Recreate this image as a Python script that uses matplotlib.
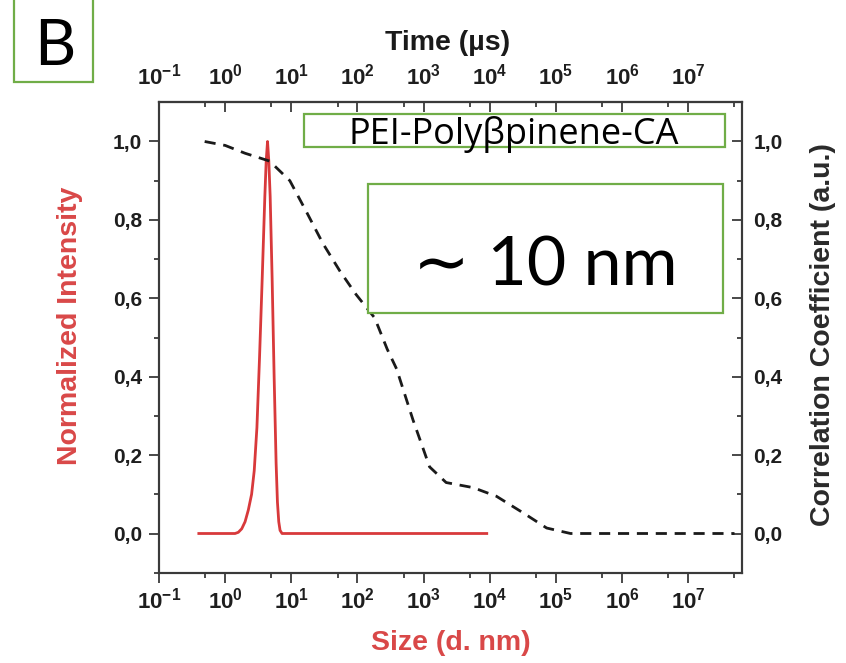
import matplotlib
matplotlib.use("Agg")
import matplotlib.pyplot as plt
from matplotlib.patches import Rectangle
from matplotlib.ticker import FixedLocator, FixedFormatter

plt.rcParams['font.family'] = ['Liberation Sans', 'DejaVu Sans']
plt.rcParams['font.weight'] = 'bold'
plt.rcParams['mathtext.fontset'] = 'custom'
plt.rcParams['mathtext.rm'] = 'Liberation Sans:bold'
plt.rcParams['mathtext.bf'] = 'Liberation Sans:bold'
plt.rcParams['mathtext.it'] = 'Liberation Sans:bold'

# --- size distribution (bottom axis, nm) ---
size_nm = [0.4, 1.0, 1.41, 1.58, 1.78, 2.0, 2.24, 2.51, 2.75, 3.02, 3.31,
           3.63, 3.98, 4.17, 4.37, 4.57, 4.79, 5.13, 5.50, 5.89, 6.17,
           6.46, 6.76, 7.24, 100, 9000]
intensity = [0, 0, 0.0, 0.003, 0.012, 0.03, 0.06, 0.10, 0.16, 0.27, 0.45,
             0.65, 0.86, 0.95, 1.0, 0.95, 0.86, 0.65, 0.40, 0.18, 0.08,
             0.03, 0.008, 0.0, 0, 0]

# --- correlation function (top axis, microseconds) ---
time_us = [0.49, 1.0, 2.0, 4.7, 9.5, 17, 30, 54, 95, 182, 282, 390, 690,
           1230, 2190, 5620, 12600, 32400, 72400, 166000, 5.0e7]
correlation = [1.0, 0.99, 0.97, 0.95, 0.90, 0.82, 0.74, 0.67, 0.61, 0.55,
               0.47, 0.42, 0.29, 0.17, 0.13, 0.117, 0.095, 0.052, 0.014,
               0.0, 0.0]

x_major = [1e-1, 1e0, 1e1, 1e2, 1e3, 1e4, 1e5, 1e6, 1e7]
x_labels = [r'$\mathbf{10^{-1}}$', r'$\mathbf{10^{0}}$', r'$\mathbf{10^{1}}$',
            r'$\mathbf{10^{2}}$', r'$\mathbf{10^{3}}$', r'$\mathbf{10^{4}}$',
            r'$\mathbf{10^{5}}$', r'$\mathbf{10^{6}}$', r'$\mathbf{10^{7}}$']
x_minor = [5e-1, 5e0, 5e1, 5e2, 5e3, 5e4, 5e5, 5e6, 5e7]
y_major = [0.0, 0.2, 0.4, 0.6, 0.8, 1.0]
y_labels = ['0,0', '0,2', '0,4', '0,6', '0,8', '1,0']
y_minor = [-0.1, 0.1, 0.3, 0.5, 0.7, 0.9]

sample_name = 'PEI-Polyβpinene-CA'
size_note = '∼ 10 nm'
panel = 'B'

red = '#D8393B'
axis_col = '#3a3a3a'
green = '#70AD47'

fig = plt.figure(figsize=(8.46, 6.63), dpi=100)
W, H = 846, 663
L, R, T, B = 159, 742.3, 102.3, 572.7
ax = fig.add_axes([L / W, 1 - B / H, (R - L) / W, (B - T) / H])
ax2 = ax.twinx()

ax.set_xscale('log')
ax.set_xlim(1e-1, 10 ** 7.817)
ax.set_ylim(-0.1, 1.1)
ax2.set_ylim(-0.1, 1.1)

ax.plot(size_nm, intensity, color=red, lw=2.0, zorder=3)
ax2.plot(time_us, correlation, color='#1a1a1a', lw=2.0, ls=(0, (4.0, 2.8)))

for a in (ax, ax2):
    for s in a.spines.values():
        s.set_linewidth(1.5)
        s.set_color(axis_col)

ax.xaxis.set_major_locator(FixedLocator(x_major))
ax.xaxis.set_major_formatter(FixedFormatter(x_labels))
ax.xaxis.set_minor_locator(FixedLocator(x_minor))
ax.yaxis.set_major_locator(FixedLocator(y_major))
ax.yaxis.set_major_formatter(FixedFormatter(y_labels))
ax.yaxis.set_minor_locator(FixedLocator(y_minor))
ax2.yaxis.set_major_locator(FixedLocator(y_major))
ax2.yaxis.set_major_formatter(FixedFormatter(y_labels))
ax2.yaxis.set_minor_locator(FixedLocator(y_minor))

tick_kw = dict(colors=axis_col, labelcolor='#1e1e1e', width=1.3)
minor_kw = dict(length=3.5, width=1.3, colors=axis_col)
ax.tick_params(axis='x', which='major', direction='out', length=7, pad=4,
               labelsize=16, **tick_kw)
ax.tick_params(axis='x', which='minor', direction='out', **minor_kw)
ax.tick_params(axis='y', which='major', direction='out', length=7, pad=5,
               labelsize=15, **tick_kw)
ax.tick_params(axis='y', which='minor', direction='out', **minor_kw)
ax2.tick_params(axis='y', which='major', direction='in', length=7, pad=8,
                labelsize=15, **tick_kw)
ax2.tick_params(axis='y', which='minor', direction='in', **minor_kw)

top = ax.secondary_xaxis('top')
top.xaxis.set_major_locator(FixedLocator(x_major))
top.xaxis.set_major_formatter(FixedFormatter(x_labels))
top.xaxis.set_minor_locator(FixedLocator(x_minor))
top.tick_params(axis='x', which='major', direction='in', length=7, pad=9,
                labelsize=16, **tick_kw)
top.tick_params(axis='x', which='minor', direction='in', **minor_kw)
top.spines['top'].set_linewidth(1.5)
top.spines['top'].set_color(axis_col)

lab_kw = dict(fontsize=20.5, fontweight='bold')
ax.set_xlabel('Size (d. nm)', color='#D94848', **lab_kw)
ax.set_ylabel('Normalized Intensity', color='#D94848', **lab_kw)
ax2.set_ylabel('Correlation Coefficient (a.u.)', color='#2a2a2a', **lab_kw)


def px_to_ax(px, py):
    return (px - L) / (R - L), (B - py) / (B - T)


ax.xaxis.set_label_coords(*px_to_ax(451, 643))
ax.yaxis.set_label_coords(*px_to_ax(70, 326))
ax2.yaxis.set_label_coords(*px_to_ax(823, 335))
for lab in (ax.xaxis.label, ax.yaxis.label, ax2.yaxis.label):
    lab.set_verticalalignment('center')
    lab.set_horizontalalignment('center')

# top axis title
fig.text(448 / W, 1 - 43 / H, 'Time (µs)', ha='center', va='center',
         color='#1a1a1a', **lab_kw)


def fig_box(x0, y0, x1, y1):
    r = Rectangle((x0 / W, 1 - y1 / H), (x1 - x0) / W, (y1 - y0) / H,
                  transform=fig.transFigure, facecolor='white',
                  edgecolor=green, lw=1.6, zorder=10)
    fig.add_artist(r)


fig_box(14, -5, 92.7, 82.3)
fig.text(54.5 / W, 1 - 65 / H, panel, ha='center', va='baseline',
         fontsize=46, fontweight='normal', family=['Lato', 'DejaVu Sans'],
         color='black', zorder=11)

fig_box(304, 114.3, 725, 147.3)
fig.text(514 / W, 1 - 144 / H, sample_name, ha='center', va='baseline',
         fontsize=26, fontweight='normal', family=['Open Sans', 'DejaVu Sans'],
         color='black', zorder=11)

fig_box(368.3, 184, 723.3, 313.3)
fig.text(545 / W, 1 - 285 / H, size_note, ha='center', va='baseline',
         fontsize=49, fontweight='normal', family=['Lato', 'DejaVu Sans'],
         color='black', zorder=11)

fig.savefig('out.png', dpi=100, facecolor='white')
